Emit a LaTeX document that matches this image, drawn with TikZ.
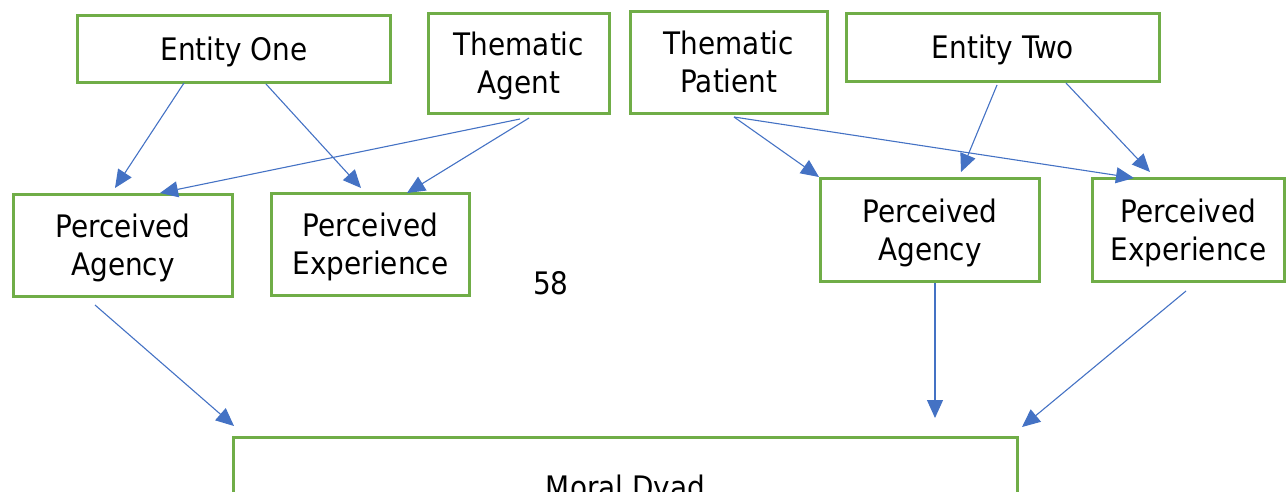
\documentclass[tikz,border=0pt]{standalone}
\usepackage{fontspec}
\setmainfont{DejaVu Sans Condensed}
\usetikzlibrary{arrows.meta}
\definecolor{boxgreen}{HTML}{70AD47}
\definecolor{linkblue}{HTML}{4472C4}
\begin{document}
\begin{tikzpicture}[x=1pt,y=-1pt,
  box/.style={draw=boxgreen, line width=3pt, inner sep=0pt, align=center,
              font=\fontsize{31}{38}\selectfont, text depth=0pt},
  oneline/.style={box, text height=22.5pt},
  twoline/.style={box, text height=60.5pt},
  link/.style={draw=linkblue, line width=1.1pt,
               -{Triangle[length=18pt,width=16pt]}}]
\clip (0,0) rectangle (1287,491);
\useasboundingbox (0,0) rectangle (1287,491);

% top row
\node[oneline, minimum width=313pt, minimum height=67pt]  (e1) at (234,49)    {Entity One};
\node[twoline, minimum width=181pt, minimum height=100pt] (ta) at (519,63.5)  {Thematic\\Agent};
\node[twoline, minimum width=197pt, minimum height=102pt] (tp) at (729,62.5)  {Thematic\\Patient};
\node[oneline, minimum width=313pt, minimum height=68pt]  (e2) at (1003,47.5) {Entity Two};

% perception boxes
\node[twoline, minimum width=219pt, minimum height=102pt] (pa1) at (123,245.5)  {Perceived\\Agency};
\node[twoline, minimum width=198pt, minimum height=102pt] (pe1) at (370.5,244.5) {Perceived\\Experience};
\node[twoline, minimum width=219pt, minimum height=103pt] (pa2) at (930,230)    {Perceived\\Agency};
\node[twoline, minimum width=192pt, minimum height=103pt] (pe2) at (1188.5,230) {Perceived\\Experience};

% outcome
\node[oneline, minimum width=784pt, minimum height=99pt] (md) at (625.5,487) {Moral Dyad};

% page number
\node[font=\fontsize{31}{38}\selectfont, text height=22.5pt, text depth=0pt, inner sep=0pt] (pg) at (551,283) {58};

% connector ends
\coordinate (e1a) at (184,83);   \coordinate (pa1t1) at (115,188);
\coordinate (e1b) at (266,84);   \coordinate (pe1t1) at (361,188);
\coordinate (taa) at (520,119);  \coordinate (pa1t2) at (160,193);
\coordinate (tab) at (529,118);  \coordinate (pe1t2) at (407,193);
\coordinate (tpa) at (734,117);  \coordinate (pa2t1) at (819,177);
\coordinate (tpb) at (734,117);  \coordinate (pe2t1) at (1134,178);
\coordinate (e2a) at (997,85);   \coordinate (pa2t2) at (961,172);
\coordinate (e2b) at (1066,83);  \coordinate (pe2t2) at (1150,172);
\coordinate (pa1b) at (95,305);  \coordinate (mdt1) at (234,426);
\coordinate (pa2b) at (935,283); \coordinate (mdt2) at (935,418);
\coordinate (pe2b) at (1186,291); \coordinate (mdt3) at (1022,427);

\draw[link] (e1a) -- (pa1t1);
\draw[link] (e1b) -- (pe1t1);
\draw[link] (taa) -- (pa1t2);
\draw[link] (tab) -- (pe1t2);
\draw[link] (tpa) -- (pa2t1);
\draw[link] (tpb) -- (pe2t1);
\draw[link] (e2a) -- (pa2t2);
\draw[link] (e2b) -- (pe2t2);
\draw[link] (pa1b) -- (mdt1);
\draw[link] (pa2b) -- (mdt2);
\draw[link] (pe2b) -- (mdt3);
\end{tikzpicture}
\end{document}
